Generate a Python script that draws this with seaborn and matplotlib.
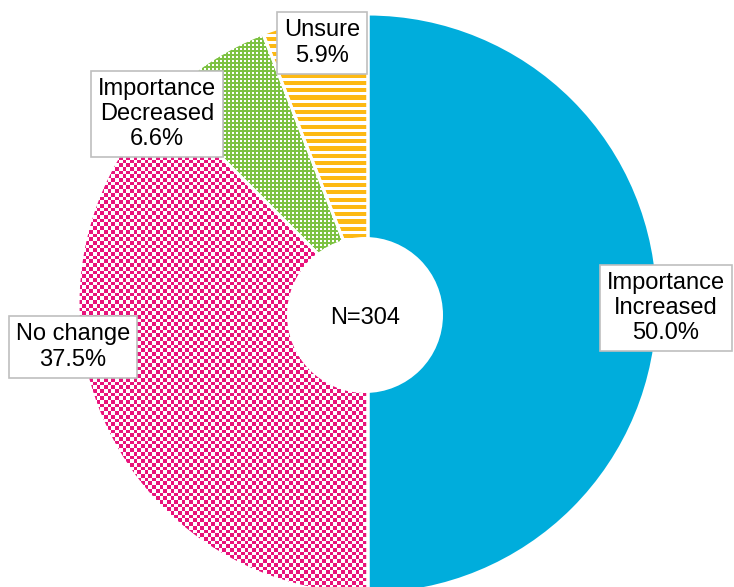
import numpy as np
import matplotlib
matplotlib.use("Agg")
import matplotlib.pyplot as plt
from matplotlib.patches import Circle
import seaborn as sns

# Survey responses (share of respondents, %)
categories = ["Importance\nIncreased", "No change", "Importance\nDecreased", "Unsure"]
shares = [50.0, 37.5, 6.6, 5.9]
sample_label = "N=304"

sns.set_style("white")
plt.rcParams["font.family"] = ["Liberation Sans", "DejaVu Sans"]
plt.rcParams["text.color"] = "black"

blue, pink, green, orange = sns.color_palette(["#00ADDC", "#E8137B", "#7DC242", "#FDB913"])

W, H = 734, 587
fig = plt.figure(figsize=(W / 100, H / 100), dpi=100)
ax = fig.add_axes([0, 0, 1, 1])

center = (368, H - 304)
radius = 290

wedges, _ = ax.pie(shares, colors=[blue, "white", "white", "white"], startangle=90,
                   counterclock=False, center=center, radius=radius,
                   wedgeprops=dict(linewidth=0))

# Pixel textures for the patterned slices
yy, xx = np.mgrid[0:H, 0:W]


def to_rgb(c):
    return np.array(matplotlib.colors.to_rgb(c))


def texture(mask, fg, bg="white"):
    img = np.empty((H, W, 3))
    img[:] = to_rgb(bg)
    img[mask] = to_rgb(fg)
    return img


checker = ((np.floor(xx / 3.7) + np.floor(yy / 3.7)) % 2) == 0
dots = ((xx % 4) < 2) & ((yy % 4) < 2)
stripes = (yy % 7.3) < 4.2

tex_nochange = texture(checker, pink)
tex_decreased = texture(~dots, green)
tex_unsure = texture(stripes, orange)

for wedge, tex in zip(wedges[1:], [tex_nochange, tex_decreased, tex_unsure]):
    im = ax.imshow(tex, extent=(0, W, 0, H), origin="upper",
                   interpolation="nearest", zorder=2)
    im.set_clip_path(wedge)

# White separators between slices
ax.pie(shares, colors=["none"] * 4, startangle=90, counterclock=False,
       center=center, radius=radius,
       wedgeprops=dict(linewidth=2.2, edgecolor="white"))
for p in ax.patches[-4:]:
    p.set_zorder(3)

# Centre hole
ax.add_patch(Circle((365, H - 315), 78, facecolor="white", edgecolor="none", zorder=4))
ax.text(365, H - 318, sample_label, ha="center", va="center", fontsize=17,
        color="black", zorder=5)

box = dict(boxstyle="square,pad=0.3", facecolor="white", edgecolor="#BFBFBF",
           linewidth=1.2)
label_pos = [(666, H - 308), (73, H - 347), (157, H - 114), (322, H - 43)]
for name, val, (lx, ly) in zip(categories, shares, label_pos):
    ax.text(lx, ly, f"{name}\n{val:.1f}%", ha="center", va="center",
            multialignment="center", fontsize=17, linespacing=1.2,
            color="black", bbox=box, zorder=6)

ax.set_xlim(0, W)
ax.set_ylim(0, H)
ax.set_aspect("auto")
ax.axis("off")

fig.savefig("out.png", dpi=100)
